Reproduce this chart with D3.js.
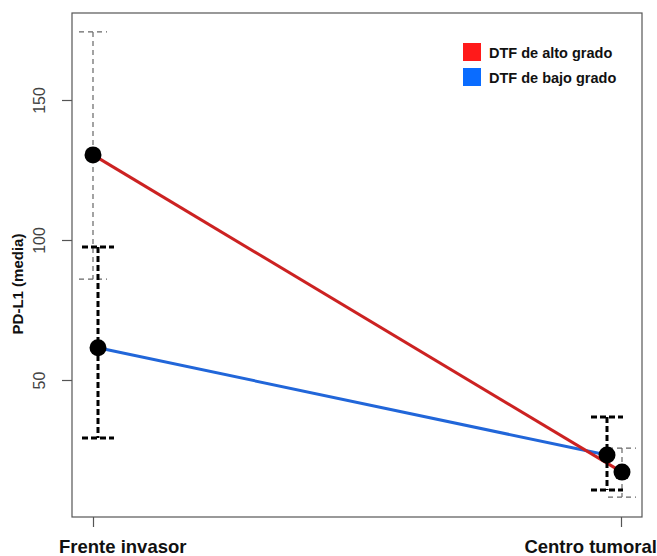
<!DOCTYPE html>
<html><head><meta charset="utf-8">
<script src="https://cdn.jsdelivr.net/npm/d3@7"></script>
<style>body{margin:0;background:#fff}svg{display:block}text{font-family:"Liberation Sans",Arial,sans-serif}</style>
</head><body>
<svg id="c" width="657" height="556"></svg>
<script>
const categories = ["Frente invasor", "Centro tumoral"];
const seriesNames = ["DTF de alto grado", "DTF de bajo grado"];
const altoMean = [130.4, 17.1];
const altoLow = [86, 8.2];
const altoHigh = [174.3, 25.7];
const bajoMean = [61.5, 23.2];
const bajoLow = [29.3, 10.7];
const bajoHigh = [97.5, 36.8];
const yTicks = [50, 100, 150];

const svg = d3.select("#c");
const L = 72, R = 642, T = 13, B = 517;
const x = d3.scalePoint().domain(categories).range([93, 621]);
const y = d3.scaleLinear().domain([50, 150]).range([380, 100]);

// box
svg.append("rect").attr("x", L).attr("y", T).attr("width", R - L).attr("height", B - T)
  .attr("fill", "none").attr("stroke", "#555").attr("stroke-width", 1.2);

// y axis
const ya = svg.append("g").attr("transform", `translate(${L},0)`)
  .call(d3.axisLeft(y).tickValues(yTicks).tickSize(10).tickSizeOuter(0).tickPadding(0));
ya.select(".domain").remove();
ya.selectAll(".tick line").attr("stroke", "#555").attr("stroke-width", 1.2);
ya.selectAll(".tick text").remove();
ya.selectAll(".tick").append("text")
  .attr("transform", "translate(-27,0) rotate(-90)")
  .attr("text-anchor", "middle").attr("fill", "#444").attr("font-size", 16).text(d => d);

// x axis
const xa = svg.append("g").attr("transform", `translate(0,${B})`)
  .call(d3.axisBottom(x).tickSize(10).tickSizeOuter(0));
xa.select(".domain").remove();
xa.selectAll(".tick line").attr("stroke", "#555").attr("stroke-width", 1.2);
xa.selectAll(".tick text").remove();
svg.append("text").attr("x", 59).attr("y", 553).attr("font-size", 18.5).attr("font-weight", "bold")
  .attr("fill", "#111").text(categories[0]);
svg.append("text").attr("x", 657).attr("y", 553).attr("text-anchor", "end").attr("font-size", 18.5)
  .attr("font-weight", "bold").attr("fill", "#111").text(categories[1]);

// y label
svg.append("text").attr("transform", "translate(23,284) rotate(-90)").attr("text-anchor", "middle")
  .attr("font-size", 15).attr("font-weight", "bold").attr("fill", "#111").text("PD-L1 (media)");

const altoX = [0, 1], bajoX = [5, -14];
const series = [
  {mean: altoMean, low: altoLow, high: altoHigh, dx: altoX, line: "#cc2222", err: "#666", ew: 1.2, dash: "5,4", cap: 14},
  {mean: bajoMean, low: bajoLow, high: bajoHigh, dx: bajoX, line: "#2166d9", err: "#000", ew: 3, dash: "6,3", cap: 16}
];

// lines (blue first so red lies on top)
series.slice().reverse().forEach(s => {
  const pts = categories.map((c, i) => [x(c) + s.dx[i], y(s.mean[i])]);
  svg.append("path").attr("d", d3.line()(pts)).attr("stroke", s.line).attr("stroke-width", 3).attr("fill", "none");
});

// error bars
series.forEach(s => {
  categories.forEach((c, i) => {
    const cx = x(c) + s.dx[i];
    const g = svg.append("g").attr("stroke", s.err).attr("stroke-width", s.ew).attr("stroke-dasharray", s.dash).attr("fill", "none");
    g.append("line").attr("x1", cx).attr("x2", cx).attr("y1", y(s.high[i])).attr("y2", y(s.low[i]));
    [s.high[i], s.low[i]].forEach(v => {
      g.append("line").attr("x1", cx - s.cap).attr("x2", cx + s.cap).attr("y1", y(v)).attr("y2", y(v));
    });
  });
});

// points
series.forEach(s => {
  categories.forEach((c, i) => {
    svg.append("circle").attr("cx", x(c) + s.dx[i]).attr("cy", y(s.mean[i])).attr("r", 8.5).attr("fill", "#000");
  });
});

// legend
const legColors = ["#ff1a1a", "#0a6cff"];
seriesNames.forEach((n, i) => {
  svg.append("rect").attr("x", 463).attr("y", 43 + i * 25).attr("width", 18).attr("height", 18).attr("fill", legColors[i]);
  svg.append("text").attr("x", 489).attr("y", 57.5 + i * 25).attr("font-size", 14.5).attr("font-weight", "bold")
    .attr("fill", "#111").text(n);
});
</script>
</body></html>
